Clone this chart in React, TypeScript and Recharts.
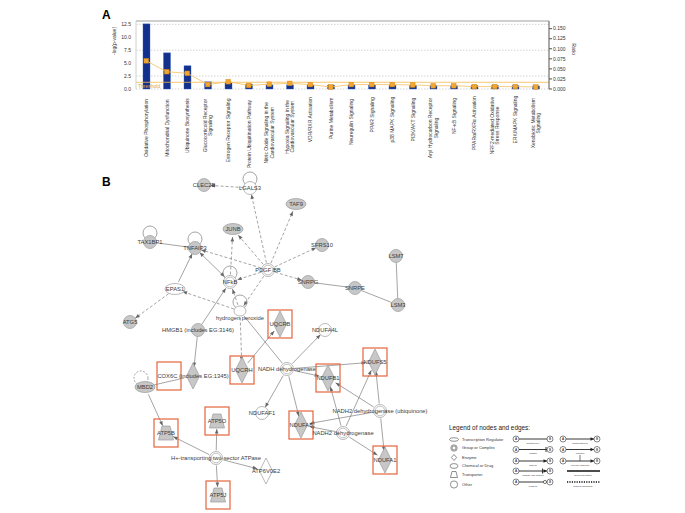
import React from "react";
import {
  Bar,
  CartesianGrid,
  ComposedChart,
  Line,
  ReferenceLine,
  Scatter,
  ScatterChart,
  XAxis,
  YAxis,
} from "recharts";

// Panel A: canonical pathways (-log p bars, ratio line)
const pathways = [
  "Oxidative Phosphorylation",
  "Mitochondrial Dysfunction",
  "Ubiquinone Biosynthesis",
  "Glucocorticoid Receptor\nSignaling",
  "Estrogen Receptor Signaling",
  "Protein Ubiquitination Pathway",
  "Nitric Oxide Signaling in the\nCardiovascular System",
  "Hypoxia Signaling in the\nCardiovascular System",
  "VDR/RXR Activation",
  "Purine Metabolism",
  "Neuregulin Signaling",
  "PPAR Signaling",
  "p38 MAPK Signaling",
  "PI3K/AKT Signaling",
  "Aryl Hydrocarbon Receptor\nSignaling",
  "NF-κB Signaling",
  "PPARα/RXRα Activation",
  "NRF2-mediated Oxidative\nStress Response",
  "ERK/MAPK Signaling",
  "Xenobiotic Metabolism\nSignaling",
];
const negLogP = [12.6, 7.0, 4.5, 1.4, 1.3, 0.95, 0.8, 0.8, 0.75, 0.75, 0.75, 0.75, 0.7, 0.7, 0.7, 0.65, 0.65, 0.65, 0.65, 0.6];
const ratio = [0.07, 0.043, 0.039, 0.011, 0.018, 0.009, 0.012, 0.014, 0.011, 0.005, 0.011, 0.011, 0.011, 0.01, 0.008, 0.008, 0.006, 0.006, 0.006, 0.005];
const leftTicks = [0, 2.5, 5, 7.5, 10, 12.5];
const rightTicks = [0, 0.025, 0.05, 0.075, 0.1, 0.125, 0.15];
const threshold = 1.3;

// Panel B: network nodes (layout positions) and edges
const nodes = [
  { id: "CLEC2B", x: 204, y: 185, type: "other", filled: true },
  { id: "LGALS3", x: 250, y: 188, type: "other", filled: false, loop: true },
  { id: "TAF9", x: 296, y: 204, type: "tr", filled: true },
  { id: "JUNB", x: 233, y: 229, type: "tr", filled: true },
  { id: "TAX1BP1", x: 150, y: 242, type: "other", filled: true, loop: true },
  { id: "TNFAIP3", x: 195, y: 248, type: "other", filled: true, loop: true },
  { id: "SFRS10", x: 322, y: 245, type: "other", filled: true },
  { id: "LSM7", x: 396, y: 256, type: "other", filled: true },
  { id: "PDGF BB", x: 268, y: 270, type: "group", filled: false },
  { id: "NFkB", x: 230, y: 282, type: "group", filled: false, loop: true },
  { id: "SNRPG", x: 308, y: 282, type: "other", filled: true },
  { id: "SNRPE", x: 355, y: 288, type: "other", filled: true },
  { id: "LSM3", x: 398, y: 305, type: "other", filled: true },
  { id: "EPAS1", x: 175, y: 289, type: "tr", filled: false },
  { id: "ATG5", x: 130, y: 322, type: "other", filled: true },
  { id: "H2O2", label: "hydrogen peroxide", x: 240, y: 311, type: "chem", filled: false, loop: true, labelDy: 7 },
  { id: "UQCRB", x: 280, y: 324, type: "enzyme", filled: true, focus: true },
  { id: "HMGB1", label: "HMGB1 (includes EG:3146)", x: 198, y: 330, type: "other", filled: true },
  { id: "NDUFA4L", x: 325, y: 330, type: "other", filled: false },
  { id: "COX6C", label: "COX6C (includes EG:1345)", x: 193, y: 376, type: "enzyme", filled: true, focus: true, boxDx: -24 },
  { id: "MBD2", x: 145, y: 387, type: "tr", filled: true, loop: true, loopDashed: true },
  { id: "UQCRH", x: 242, y: 370, type: "enzyme", filled: true, focus: true },
  { id: "NADHDH", label: "NADH dehydrogenase", x: 287, y: 369, type: "group", filled: false },
  { id: "NDUFB1", x: 328, y: 378, type: "enzyme", filled: true, focus: true },
  { id: "NDUFS5", x: 375, y: 362, type: "enzyme", filled: true, focus: true },
  { id: "NDUFAF1", x: 262, y: 413, type: "other", filled: false },
  { id: "NDUFA8", x: 301, y: 425, type: "enzyme", filled: true, focus: true },
  { id: "NADH2U", label: "NADH2 dehydrogenase (ubiquinone)", x: 380, y: 411, type: "group", filled: false },
  { id: "NADH2", label: "NADH2 dehydrogenase", x: 343, y: 433, type: "group", filled: false },
  { id: "NDUFA1", x: 385, y: 460, type: "enzyme", filled: true, focus: true },
  { id: "ATP5B", x: 166, y: 433, type: "transporter", filled: true, focus: true },
  { id: "ATP5O", x: 217, y: 421, type: "transporter", filled: true, focus: true },
  { id: "ATPase", label: "H+-transporting two-sector ATPase", x: 216, y: 458, type: "group", filled: false },
  { id: "ATP6V0E2", x: 266, y: 471, type: "enzyme", filled: false },
  { id: "ATP5J", x: 218, y: 495, type: "transporter", filled: true, focus: true },
];

// d = dashed arrow, s = solid arrow, l = solid plain, b = solid both ends
const edges = [
  ["LGALS3", "CLEC2B", "d"],
  ["PDGF BB", "LGALS3", "d"],
  ["PDGF BB", "TAF9", "d"],
  ["PDGF BB", "JUNB", "d"],
  ["PDGF BB", "SFRS10", "d"],
  ["PDGF BB", "TNFAIP3", "d"],
  ["PDGF BB", "NFkB", "d"],
  ["PDGF BB", "SNRPG", "d"],
  ["PDGF BB", "H2O2", "d"],
  ["TAX1BP1", "TNFAIP3", "l"],
  ["NFkB", "TNFAIP3", "b"],
  ["EPAS1", "TNFAIP3", "s"],
  ["EPAS1", "ATG5", "d"],
  ["H2O2", "EPAS1", "d"],
  ["H2O2", "NFkB", "d"],
  ["NFkB", "JUNB", "d"],
  ["HMGB1", "NFkB", "s"],
  ["HMGB1", "COX6C", "s"],
  ["H2O2", "UQCRH", "d"],
  ["H2O2", "NADHDH", "l"],
  ["UQCRH", "UQCRB", "s"],
  ["SNRPG", "SNRPE", "l"],
  ["SNRPE", "LSM3", "l"],
  ["LSM7", "LSM3", "l"],
  ["NADHDH", "NDUFA4L", "s"],
  ["NADHDH", "NDUFAF1", "s"],
  ["NADHDH", "NDUFA8", "s"],
  ["NADHDH", "NDUFB1", "s"],
  ["NADHDH", "NDUFS5", "s"],
  ["NADH2U", "NDUFB1", "s"],
  ["NADH2U", "NDUFA8", "s"],
  ["NADH2U", "NDUFS5", "s"],
  ["NADH2U", "NDUFA1", "s"],
  ["NADH2", "NDUFS5", "s"],
  ["NADH2", "NDUFB1", "s"],
  ["NADH2", "NDUFA8", "s"],
  ["NADH2", "NDUFA1", "s"],
  ["MBD2", "ATP5B", "s"],
  ["MBD2", "COX6C", "l"],
  ["ATPase", "ATP5B", "s"],
  ["ATPase", "ATP5O", "s"],
  ["ATPase", "ATP5J", "s"],
  ["ATPase", "ATP6V0E2", "s"],
];

const nodeTypes = ["Transcription Regulator", "Group or Complex", "Enzyme", "Chemical or Drug", "Transporter", "Other"];
const edgeTypesLeft = ["binding only", "inhibits", "acts on", "inhibits AND acts on", "leads to"];
const edgeTypesRight = ["translocates to", "reaction", "enzyme catalysis", "direct interaction", "indirect interaction"];

const FONT = "'Liberation Sans', Arial, sans-serif";
const EDGE = "#7d7d7d";
const NODE_STROKE = "#9b9b9b";
const NODE_FILL = "#c7c7c7";

const chartData = pathways.map((name, i) => ({ name, logp: negLogP[i], ratio: ratio[i] }));

function PathwayTick(props: any) {
  const { x, y, payload } = props;
  const lines = String(payload.value).split("\n");
  const fs = 5;
  const longest = Math.max(...lines.map((l) => l.length));
  const w = longest * fs * 0.48;
  const cy = y + 1 + w / 2;
  const lh = 5.6;
  const x0 = x - ((lines.length - 1) * lh) / 2;
  return (
    <g>
      {lines.map((l, i) => (
        <text
          key={i}
          transform={`translate(${x0 + i * lh + fs * 0.36},${cy}) rotate(-90)`}
          textAnchor="middle"
          fontSize={fs}
          fill="#333"
          fontFamily={FONT}
        >
          {l}
        </text>
      ))}
    </g>
  );
}

function SquareDot(props: any) {
  const { cx, cy } = props;
  if (cx == null || cy == null) return null;
  return <rect x={cx - 2.3} y={cy - 2.3} width={4.6} height={4.6} fill="#f2a630" stroke="#d08a1c" strokeWidth={0.5} />;
}

function nodeRadius(type: string) {
  if (type === "enzyme") return 9;
  if (type === "transporter") return 8;
  if (type === "tr") return 8;
  if (type === "group") return 7.5;
  return 6.5;
}

function NodeShape(props: any) {
  const { cx, cy, payload: n } = props;
  const fill = n.filled ? NODE_FILL : "#fff";
  let body: React.ReactNode;
  if (n.type === "tr") {
    body = <ellipse cx={cx} cy={cy} rx={10} ry={5.5} fill={fill} stroke={NODE_STROKE} strokeWidth={0.7} />;
  } else if (n.type === "group") {
    body = (
      <g>
        <circle cx={cx} cy={cy} r={6.5} fill={fill} stroke={NODE_STROKE} strokeWidth={0.7} />
        <circle cx={cx} cy={cy} r={4.8} fill="none" stroke={NODE_STROKE} strokeWidth={0.6} />
      </g>
    );
  } else if (n.type === "enzyme") {
    body = (
      <polygon
        points={`${cx},${cy - 13} ${cx + 6.5},${cy} ${cx},${cy + 13} ${cx - 6.5},${cy}`}
        fill={fill}
        stroke={NODE_STROKE}
        strokeWidth={0.7}
      />
    );
  } else if (n.type === "transporter") {
    body = (
      <polygon
        points={`${cx - 4},${cy - 7} ${cx + 4},${cy - 7} ${cx + 7.5},${cy + 7} ${cx - 7.5},${cy + 7}`}
        fill={fill}
        stroke={NODE_STROKE}
        strokeWidth={0.7}
      />
    );
  } else if (n.type === "chem") {
    body = <ellipse cx={cx} cy={cy} rx={6} ry={5} fill={fill} stroke={NODE_STROKE} strokeWidth={0.7} />;
  } else {
    body = <circle cx={cx} cy={cy} r={6.5} fill={fill} stroke={NODE_STROKE} strokeWidth={0.7} />;
  }
  const label = n.label ?? n.id;
  return (
    <g>
      {n.loop ? (
        <circle
          cx={n.loopDashed ? cx - 4 : cx}
          cy={cy - 9}
          r={7}
          fill="none"
          stroke={EDGE}
          strokeWidth={0.7}
          strokeDasharray={n.loopDashed ? "2 1.5" : undefined}
        />
      ) : null}
      {body}
      {n.focus ? (
        <rect
          x={cx + (n.boxDx ?? 0) - 12}
          y={cy - 14}
          width={24}
          height={28}
          fill="none"
          stroke="#e4643c"
          strokeWidth={1.2}
        />
      ) : null}
      <text
        x={cx}
        y={cy + 2 + (n.labelDy ?? 0)}
        textAnchor="middle"
        fontSize={5.8}
        fill="#3c3c3c"
        fontFamily={FONT}
      >
        {label}
      </text>
    </g>
  );
}

function edgeShape(kind: string, r1: number, r2: number) {
  return (p: any) => {
    const { x1, y1, x2, y2 } = p;
    const dx = x2 - x1;
    const dy = y2 - y1;
    const len = Math.hypot(dx, dy) || 1;
    const ux = dx / len;
    const uy = dy / len;
    const sx = x1 + ux * r1;
    const sy = y1 + uy * r1;
    const ex = x2 - ux * r2;
    const ey = y2 - uy * r2;
    const head = (tx: number, ty: number, vx: number, vy: number) => {
      const bx = tx - vx * 4.5;
      const by = ty - vy * 4.5;
      return `${tx},${ty} ${bx - vy * 1.8},${by + vx * 1.8} ${bx + vy * 1.8},${by - vx * 1.8}`;
    };
    return (
      <g>
        <line
          x1={sx}
          y1={sy}
          x2={ex}
          y2={ey}
          stroke={EDGE}
          strokeWidth={0.7}
          strokeDasharray={kind === "d" ? "3 2" : undefined}
        />
        {kind !== "l" ? <polygon points={head(ex, ey, ux, uy)} fill="#666" /> : null}
        {kind === "b" ? <polygon points={head(sx, sy, -ux, -uy)} fill="#666" /> : null}
      </g>
    );
  };
}

function PathwayChart() {
  return (
    <ComposedChart
      width={490}
      height={180}
      data={chartData}
      margin={{ top: 21, right: 0, bottom: 0, left: 0 }}
    >
      <CartesianGrid vertical={false} stroke="#d4d4d4" strokeDasharray="1.5 1.5" yAxisId="left" />
      <XAxis
        dataKey="name"
        interval={0}
        height={91}
        tickLine={false}
        axisLine={false}
        tick={<PathwayTick />}
        padding={{ left: 0, right: 3 }}
      />
      <YAxis
        yAxisId="left"
        width={36}
        domain={[0, 13.15]}
        ticks={leftTicks}
        tickFormatter={(v: number) => v.toFixed(1)}
        tick={{ fontSize: 5, fill: "#333", fontFamily: FONT }}
        tickLine={false}
        tickSize={3}
        tickMargin={2}
        axisLine={{ stroke: "#d0d0d0" }}
        label={{ value: "-log(p-value)", angle: -90, position: "insideLeft", offset: 14, fontSize: 5, fill: "#333", fontFamily: FONT }}
      />
      <YAxis
        yAxisId="right"
        orientation="right"
        width={41}
        domain={[0, 0.169]}
        ticks={rightTicks}
        tickFormatter={(v: number) => v.toFixed(3)}
        tick={{ fontSize: 5, fill: "#333", fontFamily: FONT }}
        tickSize={3}
        tickMargin={1}
        axisLine={{ stroke: "#555" }}
        tickLine={{ stroke: "#555" }}
        label={{ value: "Ratio", angle: 90, position: "insideRight", offset: 16, fontSize: 5, fill: "#333", fontFamily: FONT }}
      />
      <ReferenceLine yAxisId="left" y={13.15} stroke="#cfcfcf" strokeWidth={2} />
      <Bar yAxisId="left" dataKey="logp" fill="#12308c" stroke="#3a5fc0" strokeWidth={0.4} barSize={7} isAnimationActive={false} />
      <ReferenceLine
        yAxisId="left"
        y={threshold}
        stroke="#f3b94e"
        strokeWidth={0.8}
        label={{ value: "Threshold", position: "insideTopLeft", offset: 2, fontSize: 5, fill: "#e2a43a", fontFamily: FONT }}
      />
      <Line
        yAxisId="right"
        dataKey="ratio"
        stroke="#f6c670"
        strokeWidth={0.9}
        dot={<SquareDot />}
        activeDot={false}
        isAnimationActive={false}
      />
    </ComposedChart>
  );
}

function NetworkChart() {
  const byId: Record<string, any> = {};
  nodes.forEach((n) => (byId[n.id] = n));
  return (
    <ScatterChart width={685} height={343} margin={{ top: 0, right: 0, bottom: 0, left: 0 }}>
      <XAxis type="number" dataKey="x" domain={[0, 685]} hide />
      <YAxis type="number" dataKey="y" domain={[170, 513]} reversed hide />
      {edges.map(([a, b, kind], i) => {
        const na = byId[a];
        const nb = byId[b];
        return (
          <ReferenceLine
            key={i}
            segment={[
              { x: na.x, y: na.y },
              { x: nb.x, y: nb.y },
            ]}
            ifOverflow="visible"
            shape={edgeShape(kind, nodeRadius(na.type), nodeRadius(nb.type))}
          />
        );
      })}
      <Scatter data={nodes} shape={<NodeShape />} isAnimationActive={false} />
    </ScatterChart>
  );
}

function EdgeGlyph({ x, y, kind }: { x: number; y: number; kind: string }) {
  const x2 = x + 34;
  return (
    <g>
      <circle cx={x} cy={y} r={3} fill="#fff" stroke="#333" strokeWidth={0.6} />
      <circle cx={x2} cy={y} r={3} fill="#fff" stroke="#333" strokeWidth={0.6} />
      <text x={x} y={y + 1.3} textAnchor="middle" fontSize={3.2} fontFamily={FONT}>A</text>
      <text x={x2} y={y + 1.3} textAnchor="middle" fontSize={3.2} fontFamily={FONT}>B</text>
      <line x1={x + 3} y1={y} x2={x2 - 3} y2={y} stroke="#222" strokeWidth={0.9} />
      {kind === "arrow" ? <polygon points={`${x2 - 3},${y} ${x2 - 6.5},${y - 1.8} ${x2 - 6.5},${y + 1.8}`} fill="#222" /> : null}
      {kind === "bar" ? <line x1={x2 - 4} y1={y - 2.5} x2={x2 - 4} y2={y + 2.5} stroke="#222" strokeWidth={0.9} /> : null}
      {kind === "both" ? (
        <g>
          <polygon points={`${x2 - 3},${y} ${x2 - 6.5},${y - 1.8} ${x2 - 6.5},${y + 1.8}`} fill="#222" />
          <line x1={x2 - 7.5} y1={y - 2.5} x2={x2 - 7.5} y2={y + 2.5} stroke="#222" strokeWidth={0.9} />
        </g>
      ) : null}
      {kind === "open" ? <circle cx={x2 - 5} cy={y} r={1.6} fill="#fff" stroke="#222" strokeWidth={0.6} /> : null}
    </g>
  );
}

function NetworkLegend() {
  const rowsY = [439.5, 448, 457.5, 466, 474.5, 484.5];
  const edgeRowsY = [439, 449.5, 461, 471, 482];
  const leftKinds = ["none", "bar", "arrow", "both", "open"];
  return (
    <svg width={685} height={513} style={{ position: "absolute", left: 0, top: 0, pointerEvents: "none" }}>
      <text x={449} y={430} fontSize={6.4} fill="#222" fontFamily={FONT}>Legend of nodes and edges:</text>
      {nodeTypes.map((t, i) => {
        const y = rowsY[i];
        const x = 454;
        let g: React.ReactNode;
        if (i === 0) g = <ellipse cx={x} cy={y} rx={4.5} ry={1.8} fill="#fff" stroke="#444" strokeWidth={0.6} />;
        else if (i === 1)
          g = (
            <g>
              <circle cx={x} cy={y} r={3.2} fill="#fff" stroke="#444" strokeWidth={0.6} />
              <circle cx={x} cy={y} r={2} fill="none" stroke="#444" strokeWidth={0.6} />
            </g>
          );
        else if (i === 2) g = <polygon points={`${x},${y - 3} ${x + 2.6},${y} ${x},${y + 3} ${x - 2.6},${y}`} fill="#fff" stroke="#444" strokeWidth={0.6} />;
        else if (i === 3) g = <ellipse cx={x} cy={y} rx={4} ry={2.4} fill="#fff" stroke="#444" strokeWidth={0.6} />;
        else if (i === 4) g = <polygon points={`${x - 2},${y - 3} ${x + 2},${y - 3} ${x + 3.5},${y + 3} ${x - 3.5},${y + 3}`} fill="#fff" stroke="#444" strokeWidth={0.6} />;
        else g = <circle cx={x} cy={y} r={3.6} fill="#fff" stroke="#444" strokeWidth={0.6} />;
        return (
          <g key={t}>
            {g}
            <text x={462} y={y + 1.4} fontSize={4} fill="#333" fontFamily={FONT}>{t}</text>
          </g>
        );
      })}
      {edgeTypesLeft.map((t, i) => (
        <g key={t}>
          <EdgeGlyph x={516} y={edgeRowsY[i]} kind={leftKinds[i]} />
          <text x={533} y={edgeRowsY[i] + 4.5} textAnchor="middle" fontSize={2.4} fill="#333" fontFamily={FONT}>{t}</text>
        </g>
      ))}
      <EdgeGlyph x={563} y={439} kind="arrow" />
      <text x={580} y={443.5} textAnchor="middle" fontSize={2.4} fill="#333" fontFamily={FONT}>{edgeTypesRight[0]}</text>
      <EdgeGlyph x={563} y={449.5} kind="arrow" />
      <text x={580} y={453.5} textAnchor="middle" fontSize={2.4} fill="#333" fontFamily={FONT}>{edgeTypesRight[1]}</text>
      <EdgeGlyph x={563} y={461} kind="arrow" />
      <line x1={580} y1={455} x2={580} y2={461} stroke="#222" strokeWidth={0.6} />
      <text x={580} y={465.5} textAnchor="middle" fontSize={2.4} fill="#333" fontFamily={FONT}>{edgeTypesRight[2]}</text>
      <line x1={567} y1={471} x2={600} y2={471} stroke="#111" strokeWidth={1.3} />
      <text x={583} y={475.5} textAnchor="middle" fontSize={2.4} fill="#333" fontFamily={FONT}>{edgeTypesRight[3]}</text>
      <line x1={567} y1={482} x2={600} y2={482} stroke="#111" strokeWidth={1.3} strokeDasharray="1.2 1.2" />
      <text x={583} y={486.5} textAnchor="middle" fontSize={2.4} fill="#333" fontFamily={FONT}>{edgeTypesRight[4]}</text>
    </svg>
  );
}

export default function App() {
  return (
    <div style={{ position: "absolute", left: 0, top: 0, width: 685, height: 513, background: "#fff", fontFamily: FONT, overflow: "hidden" }}>
      <style>{"body{margin:0}"}</style>
      <div style={{ position: "absolute", left: 100, top: 0 }}>
        <PathwayChart />
      </div>
      <div style={{ position: "absolute", left: 0, top: 170 }}>
        <NetworkChart />
      </div>
      <NetworkLegend />
      <div style={{ position: "absolute", left: 102, top: 8, fontSize: 12, fontWeight: "bold", lineHeight: "14px" }}>A</div>
      <div style={{ position: "absolute", left: 102, top: 175, fontSize: 12, fontWeight: "bold", lineHeight: "14px" }}>B</div>
    </div>
  );
}
